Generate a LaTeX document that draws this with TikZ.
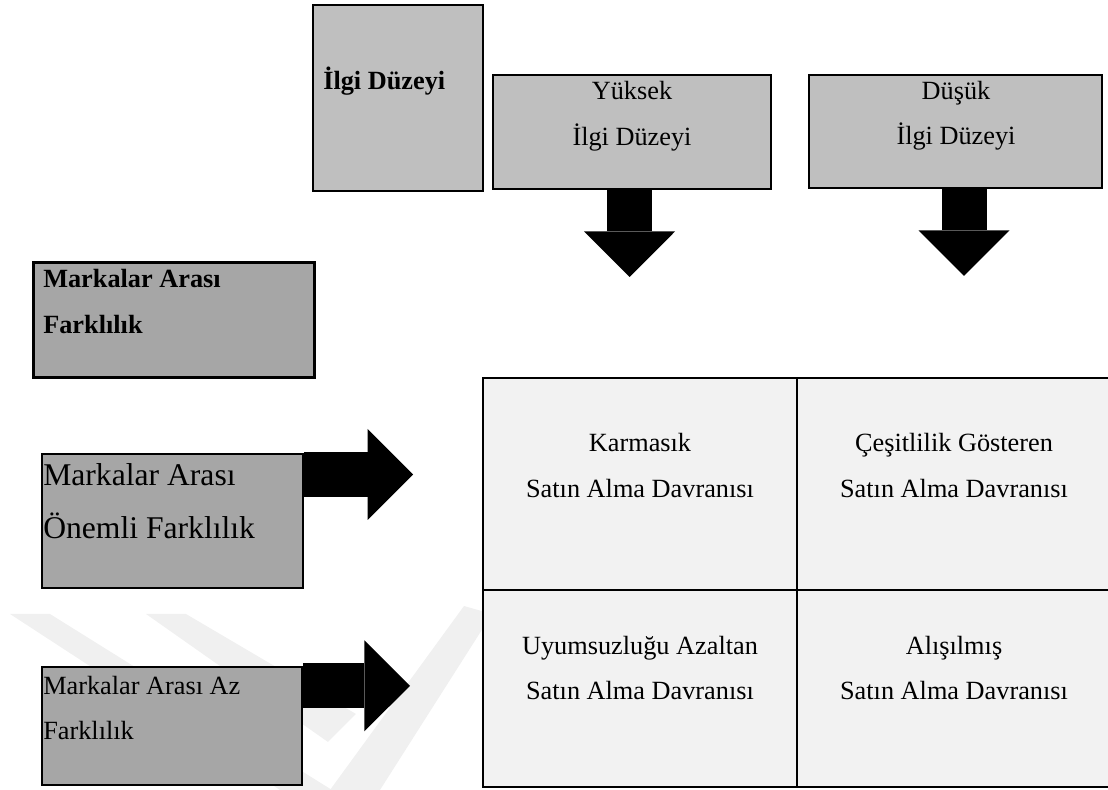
\documentclass[tikz,border=0pt]{standalone}
\usepackage{fontspec}
\setmainfont{Liberation Serif}
\usepackage{tikz}
\usetikzlibrary{arrows.meta, positioning, calc}
\definecolor{boxgray}{gray}{0.75}
\definecolor{darkgray}{gray}{0.65}
\definecolor{cellgray}{gray}{0.95}
\definecolor{markgray}{gray}{0.94}
\newcommand{\textsz}{\fontsize{18.7}{32.7}\selectfont}
\newcommand{\bigsz}{\fontsize{22.5}{38.4}\selectfont}

\begin{document}
\begin{tikzpicture}[
    box/.style={draw=black, line width=1.4pt, inner sep=0pt},
    cell/.style={draw=black, line width=1.4pt, fill=cellgray, inner sep=0pt},
    boxtext/.style={inner sep=0pt, font=\textsz},
    blockarrow/.style={line width=1.125cm, -{Triangle[width=2.275cm, length=1.14cm, line width=0pt]}}
]
    \useasboundingbox (0,0) rectangle (27.7,19.75);
    \clip (0,0) rectangle (27.7,19.75);

    % Watermark
    \fill[markgray] (0.25,4.4) -- (1.25,4.4) -- (8.3,0) -- (7.0,0) -- cycle;
    \fill[markgray] (3.65,4.4) -- (4.65,4.4) -- (8.9,1.9) -- (8.2,1.2) -- cycle;
    \fill[markgray] (8.25,0) -- (9.5,0) -- (12.3,4.4) -- (11.6,4.6) -- cycle;

    % Ilgi Duzeyi (top)
    \node[box, fill=boxgray, line width=2.1pt, minimum width=4.25cm, minimum height=4.65cm] (ilgi) at (9.95,17.3) {};
    \node[boxtext, font=\textsz\bfseries, anchor=base west] (ilgitext) at (8.075,17.52) {İlgi Düzeyi};

    \node[box, fill=boxgray, minimum width=6.95cm, minimum height=2.85cm] (yuksek) at (15.8,16.45) {};
    \node[boxtext, align=center, anchor=base] (yuksektext) at (15.8,16.11) {Yüksek\\İlgi Düzeyi};

    \node[box, fill=boxgray, minimum width=7.325cm, minimum height=2.83cm] (dusuk) at (23.89,16.46) {};
    \node[boxtext, align=center, anchor=base] (dusuktext) at (23.9,16.125) {Düşük\\İlgi Düzeyi};

    % Markalar arasi farklilik (left)
    \node[box, fill=darkgray, line width=2.1pt, minimum width=7.025cm, minimum height=2.875cm] (fark) at (4.34,11.76) {};
    \node[boxtext, font=\textsz\bfseries, align=left, anchor=base west] (farktext) at (1.075,11.42) {Markalar Arası\\Farklılık};

    \node[box, fill=darkgray, minimum width=6.525cm, minimum height=3.33cm] (onemli) at (4.31,6.725) {};
    \node[boxtext, font=\bigsz, align=left, anchor=base west] (onemlitext) at (1.075,6.275) {Markalar Arası\\Önemli Farklılık};

    \node[box, fill=darkgray, minimum width=6.5cm, minimum height=2.95cm] (az) at (4.3,1.6) {};
    \node[boxtext, align=left, anchor=base west] (aztext) at (1.075,1.25) {Markalar Arası Az\\Farklılık};

    % Satin alma davranisi matrix
    \node[cell, minimum width=7.85cm, minimum height=5.3cm] (karmasik) at (16.0,7.65) {};
    \node[cell, minimum width=7.875cm, minimum height=5.3cm] (cesitli) at (23.8625,7.65) {};
    \node[cell, minimum width=7.85cm, minimum height=4.92cm] (uyum) at (16.0,2.54) {};
    \node[cell, minimum width=7.875cm, minimum height=4.92cm] (alisil) at (23.8625,2.54) {};

    \node[boxtext, align=center, anchor=base] (karmasiktext) at (16.0,7.31) {Karmasık\\Satın Alma Davranısı};
    \node[boxtext, align=center, anchor=base] (cesitlitext) at (23.85,7.31) {Çeşitlilik Gösteren\\Satın Alma Davranısı};
    \node[boxtext, align=center, anchor=base] (uyumtext) at (16.0,2.25) {Uyumsuzluğu Azaltan\\Satın Alma Davranısı};
    \node[boxtext, align=center, anchor=base] (alisiltext) at (23.85,2.25) {Alışılmış\\Satın Alma Davranısı};

    % Block arrows
    \coordinate (yuksektip) at (15.74,12.825);
    \coordinate (dusuktip) at (24.1,12.85);
    \coordinate (onemlitip) at (10.33,7.8875);
    \coordinate (aztip) at (10.25,2.605);
    \draw[blockarrow] (yuksek.south -| yuksektip) -- (yuksektip);
    \draw[blockarrow] (dusuk.south -| dusuktip) -- (dusuktip);
    \draw[blockarrow] (onemli.east |- onemlitip) -- (onemlitip);
    \draw[blockarrow] (az.east |- aztip) -- (aztip);
\end{tikzpicture}
\end{document}
